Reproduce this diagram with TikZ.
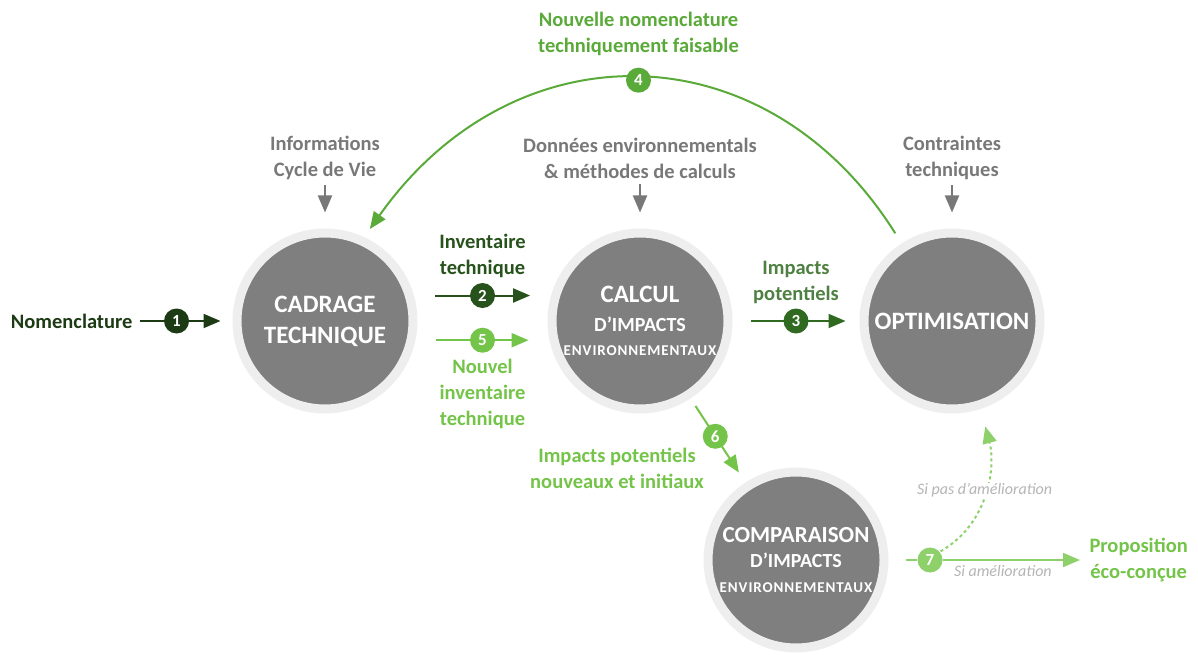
\documentclass[tikz,border=0pt]{standalone}
\usepackage{fontspec}
\setmainfont{Carlito}
\usetikzlibrary{arrows.meta}
\definecolor{stagegray}{HTML}{7F7F7F}
\definecolor{halogray}{HTML}{EEEEEE}
\definecolor{textgray}{HTML}{787878}
\definecolor{greenA}{HTML}{1C3A14}
\definecolor{greenB}{HTML}{27521B}
\definecolor{greenC}{HTML}{2F6A20}
\definecolor{greenD}{HTML}{5AAA3A}
\definecolor{greenE}{HTML}{74C449}
\definecolor{greenF}{HTML}{8ED16A}
\tikzstyle{stage} = [circle, 
fill=stagegray, draw=halogray, 
line width=9pt, 
minimum size=176pt, inner sep=0pt, 
align=center, text=white, 
font=\bfseries\fontsize{25}{31}\selectfont]
\tikzstyle{arrow} = [line width=2pt, -{Triangle[length=17pt, width=14pt]}]
\newcommand{\envtext}{{\fontsize{15}{18}\selectfont\addfontfeature{LetterSpace=6}ENVIRONNEMENTAUX}}

\begin{document}
\begin{tikzpicture}[x=1pt, y=1pt, node distance=2cm]
    % Define styles for labels, badges and lines
    \tikzstyle{gray_text} = [align=center, text=textgray, font=\bfseries\fontsize{20.5}{26}\selectfont]
    \tikzstyle{green_text} = [gray_text, text=greenB]
    \tikzstyle{badge} = [circle, inner sep=0pt, minimum size=25pt, text=white, font=\bfseries\fontsize{17}{17}\selectfont]
    \tikzstyle{note} = [text=textgray!55, fill=white, inner sep=1pt, font=\itshape\fontsize{16}{18}\selectfont]
    \tikzstyle{gray_arrow} = [arrow, draw=textgray, shorten <=2pt, shorten >=16pt]

    \useasboundingbox (0,0) rectangle (1198,654);

    % Place nodes
    \node [stage] (cadrage) at (325,333) {CADRAGE\\TECHNIQUE};
    \node [stage, right of=cadrage, node distance=315pt] (calcul) {CALCUL\\[-2pt]{\fontsize{20}{24}\selectfont D’IMPACTS}\\[-7pt]\envtext};
    \node [stage, right of=calcul, node distance=312pt] (optim) {OPTIMISATION};
    \node [stage] (compar) at (796,94) {{\fontsize{23}{28}\selectfont COMPARAISON}\\[-6pt]{\fontsize{20}{24}\selectfont D’IMPACTS}\\[-6pt]\envtext};

    \node [gray_text, above of=cadrage, node distance=163pt] (info) {Informations\\Cycle de Vie};
    \node [gray_text, above of=calcul, node distance=163pt] (donnees) {Données environnementals\\\& méthodes de calculs};
    \node [gray_text, above of=optim, node distance=163pt] (contraintes) {Contraintes\\techniques};
    \node [green_text, text=greenA, anchor=east] (nomen) at (136,333) {Nomenclature};
    \node [green_text, text=greenE, anchor=west] (propo) at (1086,94) {Proposition\\éco-conçue};

    % Draw edges
    \path [gray_arrow] (info) -- (cadrage);
    \path [gray_arrow] (donnees) -- (calcul);
    \path [gray_arrow] (contraintes) -- (optim);

    \path [arrow, draw=greenA, shorten <=4pt, shorten >=12pt] (nomen) -- node [badge, fill=greenA, pos=0.42] (b1) {1} (cadrage);
    \path [arrow, draw=greenB, shorten <=21pt, shorten >=21pt] (cadrage.16) -- node [badge, fill=greenB] (b2) {2} (calcul.164);
    \path [arrow, draw=greenE, shorten <=21pt, shorten >=21pt] (cadrage.-12) -- node [badge, fill=greenE] (b5) {5} (calcul.-168);
    \path [arrow, draw=greenC, shorten <=18pt, shorten >=14pt] (calcul) -- node [badge, fill=greenC] (b3) {3} (optim);
    \path [arrow, draw=greenD, shorten <=12pt, shorten >=10pt] (optim.123) .. controls +(-135,215) and +(150,212) .. node [badge, fill=greenD, pos=0.5] (b4) {4} (cadrage.65);
    \path [arrow, draw=greenE, shorten <=9pt, shorten >=12pt] (calcul) -- node [badge, fill=greenE, pos=0.45] (b6) {6} (compar);

    \node [green_text, above of=b2, node distance=40pt] {Inventaire\\technique};
    \node [green_text, text=greenE, below of=b5, node distance=54pt] {Nouvel\\inventaire\\technique};
    \node [green_text, text=greenC!85!white, above of=b3, node distance=39pt] {Impacts\\potentiels};
    \node [green_text, text=greenD, above of=b4, node distance=46pt] {Nouvelle nomenclature\\techniquement faisable};
    \node [green_text, text=greenE] at (617,186) {Impacts potentiels\\nouveaux et initiaux};

    \node [badge, fill=greenF] (b7) at (930,94) {7};
    \path [draw=greenF, line width=2pt, shorten <=17pt] (compar) -- (b7);
    \path [arrow, draw=greenF, shorten >=6pt] (b7) -- node [note, below=3pt, pos=0.42] {Si amélioration} (propo);
    \path [arrow, draw=greenF, dash pattern=on 3pt off 3pt, shorten <=1pt, shorten >=18pt] (b7.40) to [out=30, in=-75] node [note, pos=0.5] {Si pas d’amélioration} (optim.-72);
\end{tikzpicture}
\end{document}
